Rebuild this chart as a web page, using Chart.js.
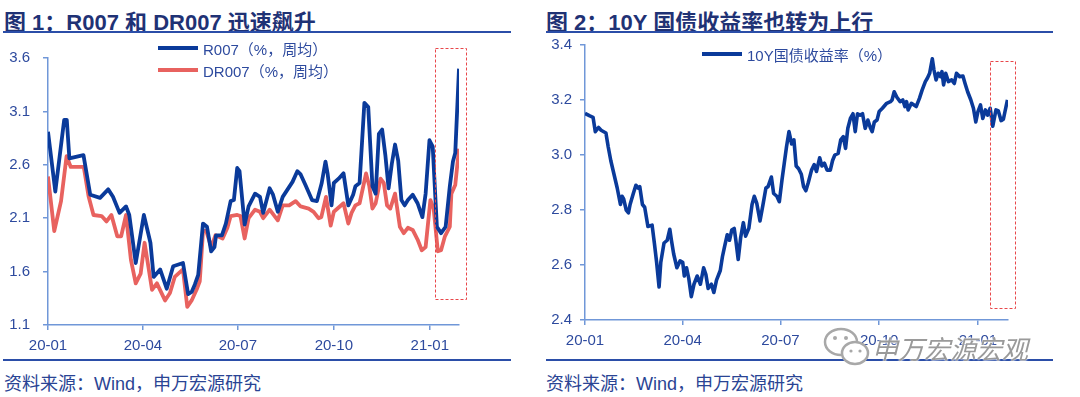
<!DOCTYPE html>
<html>
<head>
<meta charset="utf-8">
<script src="https://cdn.jsdelivr.net/npm/chart.js@4.4.1/dist/chart.umd.min.js"></script>
<style>
body { margin: 0; background: #fff; width: 1080px; height: 397px; overflow: hidden; position: relative; font-family: "Liberation Sans", "Noto Sans CJK SC", sans-serif; }
.title { position: absolute; top: 4px; font: bold 22px "Liberation Sans", "Noto Sans CJK SC", sans-serif; color: #1f3275; white-space: nowrap; }
.rule { position: absolute; height: 2px; background: #2b4ea8; }
.src { position: absolute; top: 369px; font-size: 18px; color: #2a4494; white-space: nowrap; }
.wrap { position: absolute; width: 540px; }
.legend { position: absolute; font-size: 15px; color: #2d4a9e; white-space: nowrap; }
.legend .row { display: flex; align-items: center; height: 22px; }
.legend .sw { display: inline-block; width: 40px; height: 4px; margin-right: 5px; }
.wm { position: absolute; left: 872px; top: 329px; font: 26px "Noto Sans CJK SC", sans-serif; color: #9a9a9a; font-style: italic; text-shadow: 0 0 2px #fff, 0 0 2px #fff; white-space: nowrap; }
</style>
</head>
<body>
<div class="title" style="left:4px">图 1：R007 和 DR007 迅速飙升</div>
<div class="title" style="left:546px">图 2：10Y 国债收益率也转为上行</div>
<div class="rule" style="left:3px; top:31px; width:508px"></div>
<div class="rule" style="left:546px; top:31px; width:507px"></div>
<div class="rule" style="left:3px; top:359px; width:508px"></div>
<div class="rule" style="left:546px; top:359px; width:507px"></div>
<div class="src" style="left:4px">资料来源：Wind，申万宏源研究</div>
<div class="src" style="left:546px">资料来源：Wind，申万宏源研究</div>

<div class="wrap" style="left:0; top:36px; height:322px"><canvas id="grafico1"></canvas></div>
<div class="wrap" style="left:540px; top:28px; height:330px"><canvas id="grafico2"></canvas></div>
<div class="legend" id="legend1" style="left:158px; top:37px"></div>
<div class="legend" id="legend2" style="left:702px; top:43px"></div>

<svg style="position:absolute; left:822px; top:326px" width="52" height="44">
  <ellipse cx="19" cy="16" rx="16" ry="13" fill="#fff" stroke="#a8a8a8" stroke-width="2.5"/>
  <ellipse cx="33" cy="27" rx="13" ry="11" fill="#fff" stroke="#a8a8a8" stroke-width="2.5"/>
  <circle cx="13" cy="12" r="2" fill="#a8a8a8"/><circle cx="24" cy="12" r="2" fill="#a8a8a8"/>
  <circle cx="29" cy="25" r="1.6" fill="#a8a8a8"/><circle cx="38" cy="25" r="1.6" fill="#a8a8a8"/>
</svg>
<div class="wm">申万宏源宏观</div>

<script>
const tickDays = [0, 91, 182, 274, 366];
const tickLabels = ['20-01', '20-04', '20-07', '20-10', '21-01'];

// R007 周均 (days since 2020-01-01)
const r007Days = [0, 7, 15.5, 18, 20.5, 34, 40.5, 49.9, 57.7, 62.3, 68.6, 74.8, 77.9, 84.1, 91.9, 98.2, 101.3, 107.5, 113.8, 120, 129.4, 134.3, 137.7, 140.8, 144, 148.6, 152.4, 156.4, 159.6, 161.1, 166.7, 170.5, 175.1, 178.2, 181.4, 183.6, 188.5, 192.3, 198.5, 203.2, 206.3, 212.5, 215.7, 220.3, 225, 229.7, 234.4, 239, 242.2, 246.8, 253.1, 257.8, 262.4, 266, 268, 271.8, 274, 278.6, 283.3, 287.9, 292.5, 294.7, 298.7, 303.3, 307, 311, 314.1, 317.2, 320.3, 323.4, 326.5, 329.6, 332.7, 335.7, 338.8, 341.9, 345, 349.6, 354.3, 358.9, 362, 365.7, 368.8, 372.8, 376.8, 381.2, 385.2, 388.2, 390.4, 394];
const r007 = [2.91, 2.35, 3.02, 3.02, 2.66, 2.69, 2.32, 2.29, 2.37, 2.30, 2.15, 2.21, 2.13, 1.68, 2.13, 1.87, 1.55, 1.62, 1.44, 1.65, 1.68, 1.39, 1.41, 1.48, 1.57, 2.05, 2.02, 1.79, 1.83, 1.94, 1.94, 2.05, 2.26, 2.27, 2.57, 2.54, 2.04, 2.21, 2.33, 2.30, 2.15, 2.38, 2.32, 2.16, 2.30, 2.37, 2.44, 2.54, 2.51, 2.41, 2.27, 2.26, 2.43, 2.63, 2.52, 2.22, 2.43, 2.47, 2.52, 2.22, 2.32, 2.40, 2.43, 3.18, 3.14, 2.40, 2.33, 2.89, 2.93, 2.69, 2.38, 2.61, 2.79, 2.64, 2.27, 2.22, 2.27, 2.32, 2.24, 2.11, 2.33, 2.83, 2.77, 2.02, 1.96, 2.02, 2.40, 2.63, 2.71, 3.50];

// DR007 周均
const dr007Days = [0, 6, 12.5, 17.8, 21.8, 34.3, 39, 43.6, 51.4, 56.1, 60.8, 66.4, 70.1, 74.8, 79.5, 84.1, 88.8, 92.6, 99.7, 104.4, 112.2, 116.9, 121.5, 129.4, 133.5, 137.7, 142.4, 145.5, 148.6, 151.7, 156.4, 160.5, 167.4, 172, 175.1, 181.4, 184.5, 188.5, 192.3, 198.5, 203.2, 206.3, 212.5, 220.3, 225, 231.2, 237.4, 242.2, 249.9, 254.6, 259.3, 262, 266.5, 271, 274, 283.3, 287.9, 291, 294.7, 298.7, 304.9, 308, 311, 314.1, 318.8, 321.9, 325, 328.1, 332.7, 337.3, 341.1, 345, 349.6, 354.3, 358.3, 362, 366.6, 369.7, 373.7, 376.8, 380.5, 385.2, 386.7, 390.4, 394];
const dr007 = [2.49, 1.98, 2.26, 2.68, 2.58, 2.58, 2.30, 2.13, 2.12, 2.07, 2.13, 1.93, 1.93, 2.13, 1.71, 1.49, 1.58, 1.87, 1.43, 1.49, 1.33, 1.40, 1.55, 1.62, 1.27, 1.33, 1.43, 1.51, 1.98, 1.98, 1.83, 1.94, 1.91, 2.01, 2.12, 2.13, 2.12, 1.91, 2.10, 2.18, 2.16, 2.10, 2.18, 2.08, 2.22, 2.22, 2.26, 2.21, 2.19, 2.16, 2.10, 2.11, 2.30, 2.03, 2.16, 2.24, 2.05, 2.15, 2.22, 2.24, 2.52, 2.40, 2.19, 2.24, 2.47, 2.43, 2.22, 2.19, 2.33, 2.02, 1.96, 2.01, 1.99, 1.90, 1.80, 1.83, 2.27, 2.19, 1.79, 1.80, 1.93, 2.02, 2.33, 2.41, 2.75];

// 10Y 国债收益率
const bondDays = [0, 4.5, 7.5, 9.6, 12.6, 15, 19.5, 21.6, 24, 27, 30, 33, 34.5, 36, 38.4, 40.5, 42, 45, 47.4, 49.5, 51, 53.5, 55.6, 58.6, 62.5, 64.6, 66.7, 69, 70.6, 73.6, 76.6, 79, 80.5, 82.6, 85.6, 88.6, 91, 92.5, 94.6, 96.7, 99, 101.5, 104.5, 107.5, 110.5, 112.6, 114.7, 117.7, 120, 122.5, 126, 128, 130, 132.5, 134.6, 136.7, 139, 140.5, 142.7, 145, 147.5, 149.6, 152.6, 155.6, 157.7, 160, 163, 166, 168.5, 170.5, 173.6, 175.7, 178.7, 181, 183.5, 185.6, 187.7, 190, 192.5, 194.6, 196.7, 199, 201.5, 203.6, 205.7, 208, 211, 213.5, 215.6, 218.6, 220.7, 223, 225.5, 228.5, 230.6, 232.7, 235.8, 238.2, 240.6, 242.7, 244.8, 247.2, 249.6, 251.7, 253.8, 256.2, 258.5, 261, 263.5, 266, 267.5, 269.5, 272, 274, 277, 281, 284.5, 286, 288, 290.5, 293.5, 296, 298, 299.5, 301, 304, 308.5, 311.5, 314, 317, 319, 321, 323.5, 325, 327, 329, 331, 332.5, 334, 336, 338.5, 341.5, 344, 346, 349, 352, 354, 356.4, 359.4, 361.8, 364, 366, 368.4, 370.5, 373, 375, 377.4, 379.8, 382.8, 385, 387.6, 389.7, 391.3, 393.5];
const bond10y = [3.151, 3.142, 3.137, 3.085, 3.10, 3.09, 3.08, 3.03, 2.98, 2.93, 2.88, 2.82, 2.85, 2.84, 2.80, 2.79, 2.82, 2.86, 2.89, 2.88, 2.885, 2.82, 2.81, 2.74, 2.745, 2.68, 2.61, 2.52, 2.61, 2.68, 2.69, 2.73, 2.69, 2.64, 2.59, 2.615, 2.61, 2.56, 2.59, 2.55, 2.485, 2.53, 2.56, 2.53, 2.59, 2.565, 2.515, 2.53, 2.50, 2.545, 2.58, 2.63, 2.667, 2.71, 2.69, 2.727, 2.733, 2.69, 2.62, 2.70, 2.754, 2.705, 2.733, 2.82, 2.85, 2.824, 2.76, 2.824, 2.88, 2.885, 2.92, 2.86, 2.85, 2.83, 2.91, 2.97, 3.03, 3.085, 3.04, 3.055, 2.96, 2.95, 2.93, 2.885, 2.87, 2.90, 2.945, 2.965, 2.94, 2.99, 2.96, 2.97, 2.945, 2.945, 2.98, 3.00, 3.006, 3.055, 3.067, 3.024, 3.097, 3.133, 3.15, 3.085, 3.15, 3.145, 3.15, 3.097, 3.127, 3.097, 3.085, 3.12, 3.127, 3.158, 3.17, 3.188, 3.194, 3.20, 3.23, 3.21, 3.194, 3.20, 3.176, 3.194, 3.164, 3.188, 3.176, 3.206, 3.236, 3.267, 3.28, 3.297, 3.35, 3.31, 3.273, 3.297, 3.285, 3.303, 3.255, 3.297, 3.267, 3.273, 3.26, 3.297, 3.285, 3.287, 3.26, 3.23, 3.20, 3.17, 3.12, 3.158, 3.182, 3.133, 3.164, 3.145, 3.17, 3.105, 3.164, 3.16, 3.125, 3.13, 3.16, 3.20];

// 红框 (days / %)
const box1 = { x0: 371, x1: 400.5, y0: 1.34, y1: 3.69 };
const box2 = { x0: 377, x1: 400.5, y0: 2.444, y1: 3.343 };

const axisColor = '#7097d8';
const labelColor = '#2d4a9e';
const blue = '#0a3a9a';
const red = '#e8625f';

const toPoints = (days, vals) => days.map((d, i) => ({ x: d, y: vals[i] }));

const boxPlugin = {
    id: 'box',
    afterDatasetsDraw(chart, args, opts) {
        const { ctx, scales: { x, y } } = chart;
        const l = x.getPixelForValue(opts.x0), r = x.getPixelForValue(opts.x1);
        const t = y.getPixelForValue(opts.y1), b = y.getPixelForValue(opts.y0);
        ctx.save();
        ctx.strokeStyle = '#e8474a';
        ctx.lineWidth = 1;
        ctx.setLineDash([3, 2]);
        ctx.strokeRect(Math.round(l) + 0.5, Math.round(t) + 0.5, Math.round(r - l), Math.round(b - t));
        ctx.restore();
    }
};

const xScale = (h) => ({
    type: 'linear',
    min: 0,
    max: 394,
    afterBuildTicks: s => { s.ticks = tickDays.map(v => ({ value: v })); },
    afterFit: s => { s.height = h; },
    ticks: {
        callback: v => tickLabels[tickDays.indexOf(v)],
        color: labelColor,
        font: { size: 15, family: 'Liberation Sans' },
        padding: 7,
        maxRotation: 0,
        autoSkip: false
    },
    grid: { drawOnChartArea: false, drawTicks: true, tickLength: 5, color: axisColor, lineWidth: 1.5 },
    border: { color: axisColor, width: 1.5 }
});

const yScale = (min, max, step, w, pad) => ({
    min: min,
    max: max,
    afterFit: s => { s.width = w; },
    ticks: {
        stepSize: step,
        callback: v => v.toFixed(1),
        color: labelColor,
        font: { size: 15, family: 'Liberation Sans' },
        padding: pad
    },
    grid: { drawOnChartArea: false, drawTicks: true, tickLength: 5, color: axisColor, lineWidth: 1.5 },
    border: { color: axisColor, width: 1.5 }
});

const lineSet = (label, data, color, width) => ({
    label: label,
    data: data,
    borderColor: color,
    backgroundColor: color,
    borderWidth: width,
    pointRadius: 0,
    tension: 0,
    borderJoinStyle: 'round'
});

const buildLegend = (id, chart) => {
    const el = document.getElementById(id);
    chart.data.datasets.forEach(ds => {
        const row = document.createElement('div');
        row.className = 'row';
        row.innerHTML = '<span class="sw" style="background:' + ds.borderColor + '"></span>' + ds.label;
        el.appendChild(row);
    });
};

const createChart1 = (id) => {
    const chart = new Chart(document.getElementById(id), {
        type: 'line',
        data: {
            datasets: [
                lineSet('R007（%，周均）', toPoints(r007Days, r007), blue, 3.8),
                lineSet('DR007（%，周均）', toPoints(dr007Days, dr007), red, 3.8)
            ]
        },
        plugins: [boxPlugin],
        options: {
            responsive: true,
            maintainAspectRatio: false,
            animation: false,
            layout: { padding: { top: 22, right: 81, left: 0, bottom: 0 } },
            plugins: { legend: { display: false }, tooltip: { enabled: false }, box: box1 },
            scales: {
                x: xScale(33),
                y: yScale(1.1, 3.6, 0.5, 48, 13)
            }
        }
    });
    buildLegend('legend1', chart);
};

const createChart2 = (id) => {
    const chart = new Chart(document.getElementById(id), {
        type: 'line',
        data: {
            datasets: [
                lineSet('10Y国债收益率（%）', toPoints(bondDays, bond10y), blue, 3.6)
            ]
        },
        plugins: [boxPlugin],
        options: {
            responsive: true,
            maintainAspectRatio: false,
            animation: false,
            layout: { padding: { top: 0, right: 72, left: 0, bottom: 0 } },
            plugins: { legend: { display: false }, tooltip: { enabled: false }, box: box2 },
            scales: {
                x: xScale(38),
                y: yScale(2.4, 3.4, 0.2, 45, 8)
            }
        }
    });
    buildLegend('legend2', chart);
};

createChart1('grafico1');
createChart2('grafico2');
</script>
</body>
</html>
